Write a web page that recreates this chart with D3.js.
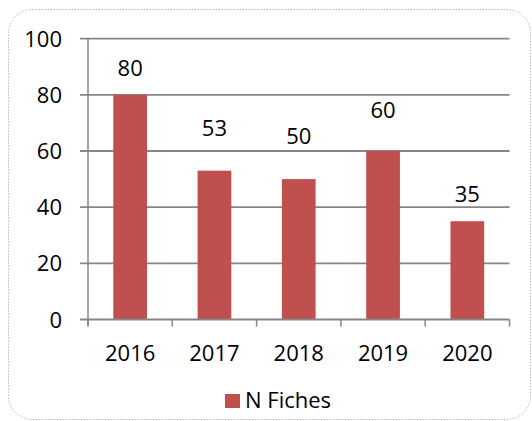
<!DOCTYPE html>
<html>
<head>
<meta charset="utf-8">
<script src="https://cdn.jsdelivr.net/npm/d3@7"></script>
<style>
  body { margin: 0; background: #fff; }
  text { font-family: "Open Sans", "Noto Sans", sans-serif; fill: #000; }
</style>
</head>
<body>
<svg width="532" height="421"></svg>
<script>
// data
const years = ["2016", "2017", "2018", "2019", "2020"];
const fiches = [80, 53, 50, 60, 35];
const yTicks = [0, 20, 40, 60, 80, 100];
const seriesName = "N Fiches";
// how far each data label sits above its bar (px), as in the original
const labelLift = [19, 35, 35, 33, 19];

const svg = d3.select("svg");

// chart frame
svg.append("rect")
    .attr("x", 8.5).attr("y", 9.5)
    .attr("width", 522).attr("height", 410)
    .attr("rx", 24).attr("ry", 24)
    .attr("fill", "none")
    .attr("stroke", "#a6a6a6")
    .attr("stroke-width", 0.8)
    .attr("stroke-dasharray", "1.5,1.5");

const x = d3.scaleBand()
    .domain(years)
    .range([88, 509.5])
    .paddingInner(0.6)
    .paddingOuter(0.3);

const y = d3.scaleLinear()
    .domain([0, 100])
    .range([319.5, 38.7]);

const grey = "#868686";

// gridlines + left ticks
svg.append("g").selectAll("line")
    .data(yTicks.filter(d => d > 0))
    .enter().append("line")
    .attr("x1", 80).attr("x2", 509.5)
    .attr("y1", d => y(d)).attr("y2", d => y(d))
    .attr("stroke", grey).attr("stroke-width", 1.8);

// y axis line
svg.append("line")
    .attr("x1", 88).attr("x2", 88)
    .attr("y1", y(100)).attr("y2", y(0) + 6)
    .attr("stroke", grey).attr("stroke-width", 1.5);

// y labels
svg.append("g").selectAll("text")
    .data(yTicks)
    .enter().append("text")
    .attr("x", 62)
    .attr("y", d => y(d) + 8)
    .attr("text-anchor", "end")
    .attr("font-size", 22)
    .text(d => d);

// bars
svg.append("g").selectAll("rect")
    .data(fiches)
    .enter().append("rect")
    .attr("x", (d, i) => x(years[i]))
    .attr("y", d => y(d))
    .attr("width", x.bandwidth())
    .attr("height", d => y(0) - y(d))
    .attr("fill", "#c0504d");

// x axis line and ticks
svg.append("line")
    .attr("x1", 80).attr("x2", 509.5)
    .attr("y1", y(0)).attr("y2", y(0))
    .attr("stroke", grey).attr("stroke-width", 1.8);

const step = x.step();
svg.append("g").selectAll("line")
    .data(d3.range(years.length + 1))
    .enter().append("line")
    .attr("x1", i => 88 + i * step).attr("x2", i => 88 + i * step)
    .attr("y1", y(0)).attr("y2", y(0) + 7)
    .attr("stroke", grey).attr("stroke-width", 1.5);

// year labels
svg.append("g").selectAll("text")
    .data(years)
    .enter().append("text")
    .attr("x", d => x(d) + x.bandwidth() / 2)
    .attr("y", 361)
    .attr("text-anchor", "middle")
    .attr("font-size", 22)
    .text(d => d);

// data labels
svg.append("g").selectAll("text")
    .data(fiches)
    .enter().append("text")
    .attr("x", (d, i) => x(years[i]) + x.bandwidth() / 2)
    .attr("y", (d, i) => y(d) - labelLift[i])
    .attr("text-anchor", "middle")
    .attr("font-size", 22)
    .text(d => d);

// legend
svg.append("rect")
    .attr("x", 225).attr("y", 394)
    .attr("width", 15).attr("height", 14)
    .attr("fill", "#c0504d");
svg.append("text")
    .attr("x", 245).attr("y", 408)
    .attr("font-size", 22)
    .text(seriesName);
</script>
</body>
</html>
